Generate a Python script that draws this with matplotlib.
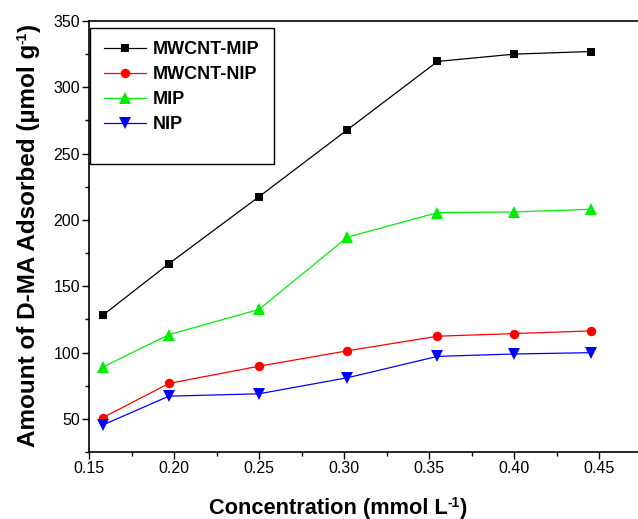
import matplotlib
matplotlib.use("Agg")
import matplotlib.pyplot as plt
from matplotlib.ticker import MultipleLocator
from matplotlib.patches import Rectangle

plt.rcParams['font.family'] = ['Liberation Sans', 'DejaVu Sans']

conc = [0.158, 0.197, 0.25, 0.302, 0.355, 0.40, 0.445]
mwcnt_mip = [128, 167, 217.5, 268, 319.5, 325, 327]
mwcnt_nip = [50.8, 76.7, 89.7, 101.3, 112.3, 114.3, 116.3]
mip = [89, 113.5, 132.5, 187, 205.5, 206, 208]
nip = [45.3, 67.1, 68.9, 81, 97.1, 98.9, 99.9]

labels = ['MWCNT-MIP', 'MWCNT-NIP', 'MIP', 'NIP']
colors = ['#000000', '#FF0000', '#00EE00', '#0000FF']
markers = ['s', 'o', '^', 'v']
msizes = [6.2, 6.8, 8.5, 8.5]

W, H = 638, 519
fig = plt.figure(figsize=(W/100, H/100), dpi=100)
left, right, top, bottom = 89, 641.5, 21, 452
ax = fig.add_axes([left/W, 1-bottom/H, (right-left)/W, (bottom-top)/H])

for ys, lab, c, m, ms in zip([mwcnt_mip, mwcnt_nip, mip, nip], labels, colors, markers, msizes):
    ax.plot(conc, ys, color=c, marker=m, markersize=ms, linewidth=0.9, label=lab,
            markeredgewidth=0)

ax.set_xlim(0.15, 0.475)
ax.set_ylim(25, 350)
ax.set_xticks([0.15, 0.20, 0.25, 0.30, 0.35, 0.40, 0.45])
ax.set_xticklabels(['0.15', '0.20', '0.25', '0.30', '0.35', '0.40', '0.45'])
ax.set_yticks([50, 100, 150, 200, 250, 300, 350])
ax.xaxis.set_minor_locator(MultipleLocator(0.025))
ax.yaxis.set_minor_locator(MultipleLocator(25))
ax.tick_params(which='major', direction='out', length=5, width=1, labelsize=11.5, pad=1.5)
ax.tick_params(which='minor', direction='out', length=3, width=1)
ax.spines['right'].set_visible(False)
for s in ['left', 'bottom', 'top']:
    ax.spines[s].set_linewidth(1.2)

# y label with superscript
yfs, sfs = 17.5, 10
t1 = fig.text(29/W, 1-447/H, 'Amount of D-MA Adsorbed (µmol g', rotation=90,
              ha='center', va='bottom', fontsize=yfs, fontweight='bold')
sup1 = ax.annotate('-1', xy=(0, 1), xycoords=t1, xytext=(-1.5, 0), textcoords='offset points',
                   rotation=90, ha='left', va='bottom',
                   fontsize=sfs, fontweight='bold', annotation_clip=False)
ax.annotate(')', xy=(0.5, 1), xycoords=(t1, sup1), rotation=90, ha='center', va='bottom',
            fontsize=yfs, fontweight='bold', annotation_clip=False)

# x label with superscript
xfs = 15.7
t2 = fig.text(209/W, 1-514/H, 'Concentration (mmol L', ha='left', va='baseline',
              fontsize=xfs, fontweight='bold')
sup2 = ax.annotate('-1', xy=(1, 1), xycoords=t2, xytext=(0, 1.5), textcoords='offset points',
                   ha='left', va='top',
                   fontsize=sfs, fontweight='bold', annotation_clip=False)
ax.annotate(')', xy=(1, 0), xycoords=(sup2, t2), ha='left', va='bottom',
            fontsize=xfs, fontweight='bold', annotation_clip=False)

leg = ax.legend(loc='upper left', bbox_to_anchor=(104/W, 1-41/H),
                bbox_transform=fig.transFigure, frameon=False,
                prop={'size': 13, 'weight': 'bold'}, handlelength=2.3,
                handletextpad=0.4, labelspacing=0.44, borderpad=0, borderaxespad=0)

ax.add_patch(Rectangle((90/W, 1-164/H), (274-90)/W, (164-28)/H, transform=fig.transFigure,
                       fill=False, edgecolor='black', linewidth=1.0, zorder=5))

fig.savefig('out.png', dpi=100)
